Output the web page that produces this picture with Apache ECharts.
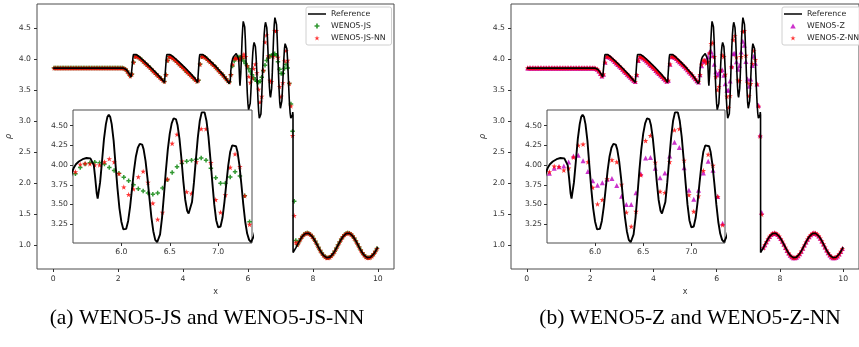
<!DOCTYPE html>
<html>
<head>
<meta charset="utf-8">
<script src="https://cdn.jsdelivr.net/npm/echarts@6/dist/echarts.min.js"></script>
<style>
  html, body { margin: 0; padding: 0; background: #fff; }
  #chart { width: 859px; height: 347px; }
</style>
</head>
<body>
<div id="chart"></div>
<script>
// cell-centred grid, dx = 0.05 on [0, 10]
const dx = 0.05;

// density shared by all four schemes, x = 0.025 .. 5.475
const rhoSmoothLeft = [
  3.857, 3.857, 3.857, 3.857, 3.857, 3.857, 3.857, 3.857, 3.857, 3.857,
  3.857, 3.857, 3.857, 3.857, 3.857, 3.857, 3.857, 3.857, 3.857, 3.857,
  3.857, 3.857, 3.857, 3.857, 3.857, 3.857, 3.857, 3.857, 3.857, 3.857,
  3.857, 3.857, 3.857, 3.857, 3.857, 3.857, 3.857, 3.857, 3.857, 3.857,
  3.857, 3.857, 3.857, 3.852, 3.84, 3.81, 3.77, 3.73, 3.76, 3.95,
  4.04, 4.05, 4.03, 4.01, 3.99, 3.965, 3.94, 3.915, 3.89, 3.865,
  3.84, 3.81, 3.785, 3.76, 3.735, 3.71, 3.685, 3.66, 3.64, 3.75,
  3.98, 4.04, 4.04, 4.02, 4.00, 3.975, 3.95, 3.925, 3.90, 3.875,
  3.85, 3.82, 3.795, 3.77, 3.745, 3.72, 3.695, 3.67, 3.645, 3.66,
  3.92, 4.04, 4.05, 4.03, 4.01, 3.985, 3.96, 3.935, 3.91, 3.885,
  3.86, 3.83, 3.80, 3.775, 3.745, 3.715, 3.685, 3.655, 3.635, 3.75
];

// x = 7.525 .. 9.975, behind the shock
const rhoSmoothRight = [
  1.012, 1.061, 1.106, 1.145, 1.174, 1.193, 1.200, 1.194, 1.177, 1.148,
  1.110, 1.066, 1.017, 0.967, 0.919, 0.877, 0.841, 0.816, 0.802, 0.801,
  0.811, 0.834, 0.867, 0.908, 0.956, 1.005, 1.054, 1.100, 1.140, 1.171,
  1.191, 1.200, 1.196, 1.180, 1.152, 1.116, 1.072, 1.023, 0.973, 0.925,
  0.882, 0.845, 0.818, 0.803, 0.800, 0.810, 0.830, 0.862, 0.902, 0.949
];

// per-scheme values, x = 5.525 .. 7.475
const rhoJS = [
  3.89, 3.97, 4.015, 4.03, 4.035, 4.03, 4.015, 3.97, 3.93, 3.895,
  3.845, 3.80, 3.75, 3.70, 3.67, 3.645, 3.63, 3.645, 3.71, 3.815,
  3.905, 3.98, 4.02, 4.05, 4.06, 4.075, 4.09, 4.06, 3.96, 3.84,
  3.77, 3.77, 3.85, 3.915, 3.86, 3.61, 3.28, 2.84, 1.71, 1.08
];
const rhoJSNN = [
  3.915, 4.01, 4.02, 4.015, 4.00, 4.00, 4.04, 4.08, 4.04, 3.89,
  3.72, 3.625, 3.695, 3.85, 3.92, 3.78, 3.515, 3.31, 3.40, 3.82,
  4.275, 4.39, 4.05, 3.66, 3.64, 4.04, 4.46, 4.46, 4.03, 3.56,
  3.40, 3.62, 3.97, 4.14, 3.98, 3.61, 3.245, 2.77, 1.48, 1.05
];
const rhoZ = [
  3.895, 3.96, 3.98, 3.99, 4.04, 4.115, 4.125, 4.055, 3.92, 3.80,
  3.745, 3.775, 3.82, 3.83, 3.74, 3.605, 3.50, 3.50, 3.65, 3.89,
  4.09, 4.095, 3.96, 3.84, 3.90, 4.115, 4.29, 4.225, 3.965, 3.68,
  3.565, 3.68, 3.90, 4.05, 3.935, 3.60, 3.26, 2.78, 1.53, 0.97
];
const rhoZNN = [
  3.915, 3.985, 3.98, 3.935, 3.96, 4.10, 4.25, 4.265, 4.04, 3.715,
  3.505, 3.56, 3.825, 4.065, 4.04, 3.755, 3.40, 3.22, 3.41, 3.875,
  4.31, 4.375, 4.035, 3.665, 3.65, 4.04, 4.445, 4.46, 4.06, 3.62,
  3.41, 3.605, 3.93, 4.135, 3.995, 3.60, 3.24, 2.76, 1.50, 0.96
];

// reference solution up to the shock (the tail reuses rhoSmoothRight)
const refX = [
  0.0, 2.15, 2.2, 2.25, 2.3, 2.35, 2.4, 2.43, 2.44, 2.455, 2.47, 2.5, 2.56, 2.65, 2.8,
  3.0, 3.2, 3.35, 3.43, 3.46, 3.47, 3.485, 3.5, 3.53, 3.6, 3.7, 3.85,
  4.05, 4.25, 4.38, 4.45, 4.475, 4.485, 4.5, 4.515, 4.545, 4.61, 4.7, 4.85,
  5.05, 5.25, 5.36, 5.42, 5.44, 5.455, 5.47, 5.49, 5.51, 5.53, 5.56, 5.6, 5.64,
  5.68, 5.7, 5.715, 5.73, 5.745, 5.755, 5.765, 5.78, 5.8, 5.82, 5.84, 5.855,
  5.87, 5.885, 5.9, 5.92, 5.94, 5.96, 5.98, 6.0, 6.02, 6.035, 6.05, 6.07,
  6.09, 6.11, 6.13, 6.15, 6.17, 6.19, 6.2, 6.215, 6.23, 6.25, 6.27, 6.29,
  6.31, 6.33, 6.35, 6.37, 6.385, 6.4, 6.42, 6.44, 6.46, 6.48, 6.5, 6.52,
  6.54, 6.55, 6.565, 6.58, 6.6, 6.62, 6.64, 6.66, 6.68, 6.695, 6.71, 6.73,
  6.75, 6.77, 6.79, 6.81, 6.83, 6.845, 6.86, 6.88, 6.9, 6.92, 6.94, 6.96,
  6.98, 7.0, 7.01, 7.025, 7.045, 7.065, 7.085, 7.105, 7.125, 7.145, 7.165,
  7.185, 7.2, 7.22, 7.24, 7.26, 7.28, 7.3, 7.32, 7.34, 7.355, 7.37, 7.38,
  7.388, 7.39, 7.425, 7.475
];
const refRho = [
  3.857, 3.857, 3.852, 3.835, 3.80, 3.76, 3.715, 3.69, 3.72, 4.02, 4.075, 4.085, 4.075, 4.04, 3.97,
  3.87, 3.765, 3.675, 3.625, 3.605, 3.65, 4.02, 4.075, 4.085, 4.075, 4.04, 3.97,
  3.87, 3.76, 3.68, 3.625, 3.605, 3.64, 4.02, 4.075, 4.085, 4.075, 4.04, 3.965,
  3.86, 3.74, 3.655, 3.61, 3.60, 3.65, 3.80, 3.91, 3.97, 4.01, 4.045, 4.075, 4.09,
  4.085, 4.06, 4.0, 3.83, 3.64, 3.575, 3.6, 3.78, 4.05, 4.33, 4.52, 4.61,
  4.64, 4.61, 4.52, 4.31, 4.0, 3.7, 3.45, 3.28, 3.185, 3.17, 3.19, 3.29,
  3.47, 3.70, 3.93, 4.11, 4.22, 4.27, 4.275, 4.26, 4.2, 4.05, 3.83, 3.58,
  3.34, 3.16, 3.05, 3.02, 3.04, 3.12, 3.33, 3.62, 3.93, 4.2, 4.40, 4.53,
  4.595, 4.60, 4.58, 4.51, 4.34, 4.09, 3.80, 3.56, 3.42, 3.385, 3.40, 3.53,
  3.78, 4.07, 4.35, 4.56, 4.67, 4.69, 4.67, 4.56, 4.36, 4.08, 3.78, 3.50,
  3.30, 3.21, 3.20, 3.22, 3.33, 3.53, 3.77, 4.0, 4.17, 4.25, 4.265,
  4.24, 4.17, 4.0, 3.76, 3.50, 3.28, 3.13, 3.05, 3.02, 3.03, 3.10, 3.15,
  3.10, 0.885, 0.915, 0.962
];
const refEnd = [10.0, 0.974];

// ticks
const xTicksMain = [0, 2, 4, 6, 8, 10];
const yTicksMain = [1.0, 1.5, 2.0, 2.5, 3.0, 3.5, 4.0, 4.5];
const xTicksInset = [6.0, 6.5, 7.0];
const yTicksInset = [3.25, 3.5, 3.75, 4.0, 4.25, 4.5];

const captions = ['(a) WENO5-JS and WENO5-JS-NN', '(b) WENO5-Z and WENO5-Z-NN'];

const FONT = 'DejaVu Sans';
const STAR = 'path://M0,-1L0.2245,-0.309L0.951,-0.309L0.3633,0.118L0.5878,0.809L0,0.382L-0.5878,0.809L-0.3633,0.118L-0.951,-0.309L-0.2245,-0.309Z';
const PLUS = 'path://M-1,-0.333H-0.333V-1H0.333V-0.333H1V0.333H0.333V1H-0.333V0.333H-1Z';
const TRI = 'path://M0,-1L1,0.8H-1Z';
const LINE = 'path://M0,0H24V2H0Z';

const cellX = i => +(0.025 + i * dx).toFixed(3);
const withGrid = rho => rho.map((r, i) => [cellX(i), r]);
const fullRho = inner => rhoSmoothLeft.concat(inner, rhoSmoothRight);
const tailStart = rhoSmoothLeft.length + rhoJS.length;
const refPoints = refX.map((x, i) => [x, refRho[i]])
  .concat(rhoSmoothRight.map((r, k) => [cellX(tailStart + k), r]))
  .concat([refEnd]);

const panels = [
  {main: {left: 37, top: 4, width: 357, height: 265}, inset: {left: 73, top: 110, width: 179, height: 133},
   legendLeft: 306, schemes: [
     {name: 'WENO5-JS', rho: rhoJS, symbol: PLUS, size: 4.5, color: '#008000'},
     {name: 'WENO5-JS-NN', rho: rhoJSNN, symbol: STAR, size: 5.5, color: '#ff0000'}]},
  {main: {left: 511, top: 4, width: 357, height: 265}, inset: {left: 547, top: 110, width: 178, height: 133},
   legendLeft: 782, schemes: [
     {name: 'WENO5-Z', rho: rhoZ, symbol: TRI, size: 5, color: '#bf00bf'},
     {name: 'WENO5-Z-NN', rho: rhoZNN, symbol: STAR, size: 5.5, color: '#ff0000'}]}
];

const labelStyle = {color: '#333', fontSize: 7.7, fontFamily: FONT};

function axis(gridIndex, min, max, ticks, digits, margin, extra) {
  return Object.assign({
    type: 'value', gridIndex: gridIndex, min: min, max: max,
    axisLine: {show: false, onZero: false},
    splitLine: {show: false},
    axisTick: {show: true, length: 3, lineStyle: {color: '#333', width: 1}, customValues: ticks},
    axisLabel: Object.assign({customValues: ticks, margin: margin, formatter: v => v.toFixed(digits)}, labelStyle)
  }, extra || {});
}

const grid = [], xAxis = [], yAxis = [], series = [], legend = [], graphic = [];

panels.forEach((p, k) => {
  const gm = grid.length, gi = gm + 1;
  grid.push(Object.assign({show: true, borderColor: '#4d4d4d', borderWidth: 1, backgroundColor: 'transparent'}, p.main));
  grid.push(Object.assign({show: true, borderColor: '#4d4d4d', borderWidth: 1, backgroundColor: '#fff', z: 10}, p.inset));

  xAxis.push(axis(gm, -0.5, 10.5, xTicksMain, 0, 6, {
    name: 'x', nameLocation: 'middle', nameGap: 17,
    nameTextStyle: {color: '#333', fontSize: 8, fontFamily: FONT}
  }));
  yAxis.push(axis(gm, 0.62, 4.89, yTicksMain, 1, 6, {
    name: 'ρ', nameLocation: 'middle', nameGap: 24,
    nameTextStyle: {color: '#333', fontSize: 8, fontFamily: FONT, fontStyle: 'italic'}
  }));
  xAxis.push(axis(gi, 5.5, 7.35, xTicksInset, 1, 5.5, {z: 11}));
  yAxis.push(axis(gi, 3.01, 4.70, yTicksInset, 2, 5, {z: 11}));

  [[gm, 3, 1.6], [gi, 12, 1.9]].forEach(([ax, z, lw]) => {
    p.schemes.forEach(s => {
      series.push({
        type: 'scatter', name: s.name, xAxisIndex: ax, yAxisIndex: ax,
        data: withGrid(fullRho(s.rho)), symbol: s.symbol, symbolSize: s.size,
        itemStyle: {color: s.color}, z: z, clip: true, silent: true
      });
    });
    series.push({
      type: 'line', name: 'Reference', xAxisIndex: ax, yAxisIndex: ax,
      data: refPoints, symbol: 'none', showSymbol: false,
      lineStyle: {color: '#000', width: lw}, z: z + 1, clip: true, silent: true
    });
  });

  legend.push({
    data: [{name: 'Reference', icon: LINE, itemStyle: {color: '#000'}}]
      .concat(p.schemes.map(s => ({name: s.name, icon: s.symbol}))),
    orient: 'vertical', left: p.legendLeft, top: 7,
    itemWidth: 18, itemHeight: 5, itemGap: 4, selectedMode: false,
    symbolKeepAspect: true,
    padding: [3, 6, 3, 2],
    backgroundColor: 'rgba(255,255,255,0.85)', borderColor: '#d0d0d0', borderWidth: 1, borderRadius: 2,
    textStyle: {color: '#222', fontSize: 7.8, fontFamily: FONT, lineHeight: 8}
  });

  graphic.push({
    type: 'text', x: [207, 690][k], y: 318,
    style: {text: captions[k], font: '21.5px "Liberation Serif"', fill: '#000', textAlign: 'center', textVerticalAlign: 'middle'}
  });
});

const chart = echarts.init(document.getElementById('chart'));
chart.setOption({
  animation: false,
  backgroundColor: '#fff',
  grid: grid, xAxis: xAxis, yAxis: yAxis, series: series, legend: legend, graphic: graphic
});
</script>
</body>
</html>
